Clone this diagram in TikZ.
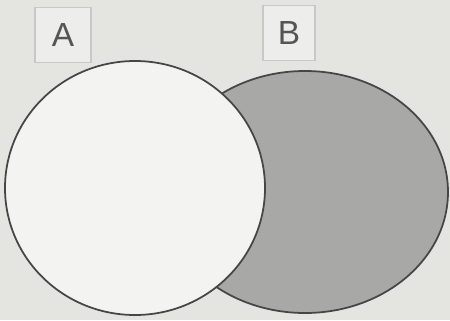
\documentclass[tikz,border=0pt]{standalone}
\usepackage{fontspec}
\usepackage{xcolor}
\usepackage{tikz}
\usetikzlibrary{shapes.geometric}
\newfontfamily\vennfont{Liberation Sans}
\definecolor{vnback}{RGB}{228,228,225}
\definecolor{vnline}{RGB}{70,70,70}
\definecolor{vnwhite}{RGB}{243,243,241}
\definecolor{vngray}{RGB}{168,168,166}
\definecolor{vnbox}{RGB}{200,200,198}
\definecolor{vntext}{RGB}{85,85,85}
\tikzset{
  setshape/.style={ellipse, draw=vnline, line width=1pt, inner sep=0pt},
  setlabel/.style={rectangle, draw=vnbox, line width=1pt, fill=vnwhite!60!vnback, minimum height=11mm, font=\vennfont\fontsize{19}{19}\selectfont, text=vntext}
}
\begin{document}
\begin{tikzpicture}
\useasboundingbox[fill=vnback] (0,0) rectangle (9,6.4);
\node[setshape, fill=vngray, minimum width=57.2mm, minimum height=48.4mm] (setB) at (6.1,2.56) {};
\node[setshape, fill=vnwhite, minimum width=52mm, minimum height=50.8mm] (setA) at (2.7,2.64) {};
\node[setlabel, minimum width=11.2mm] (labA) at (1.26,5.7) {A};
\node[setlabel, minimum width=10.4mm] (labB) at (5.78,5.74) {B};
\end{tikzpicture}
\end{document}
